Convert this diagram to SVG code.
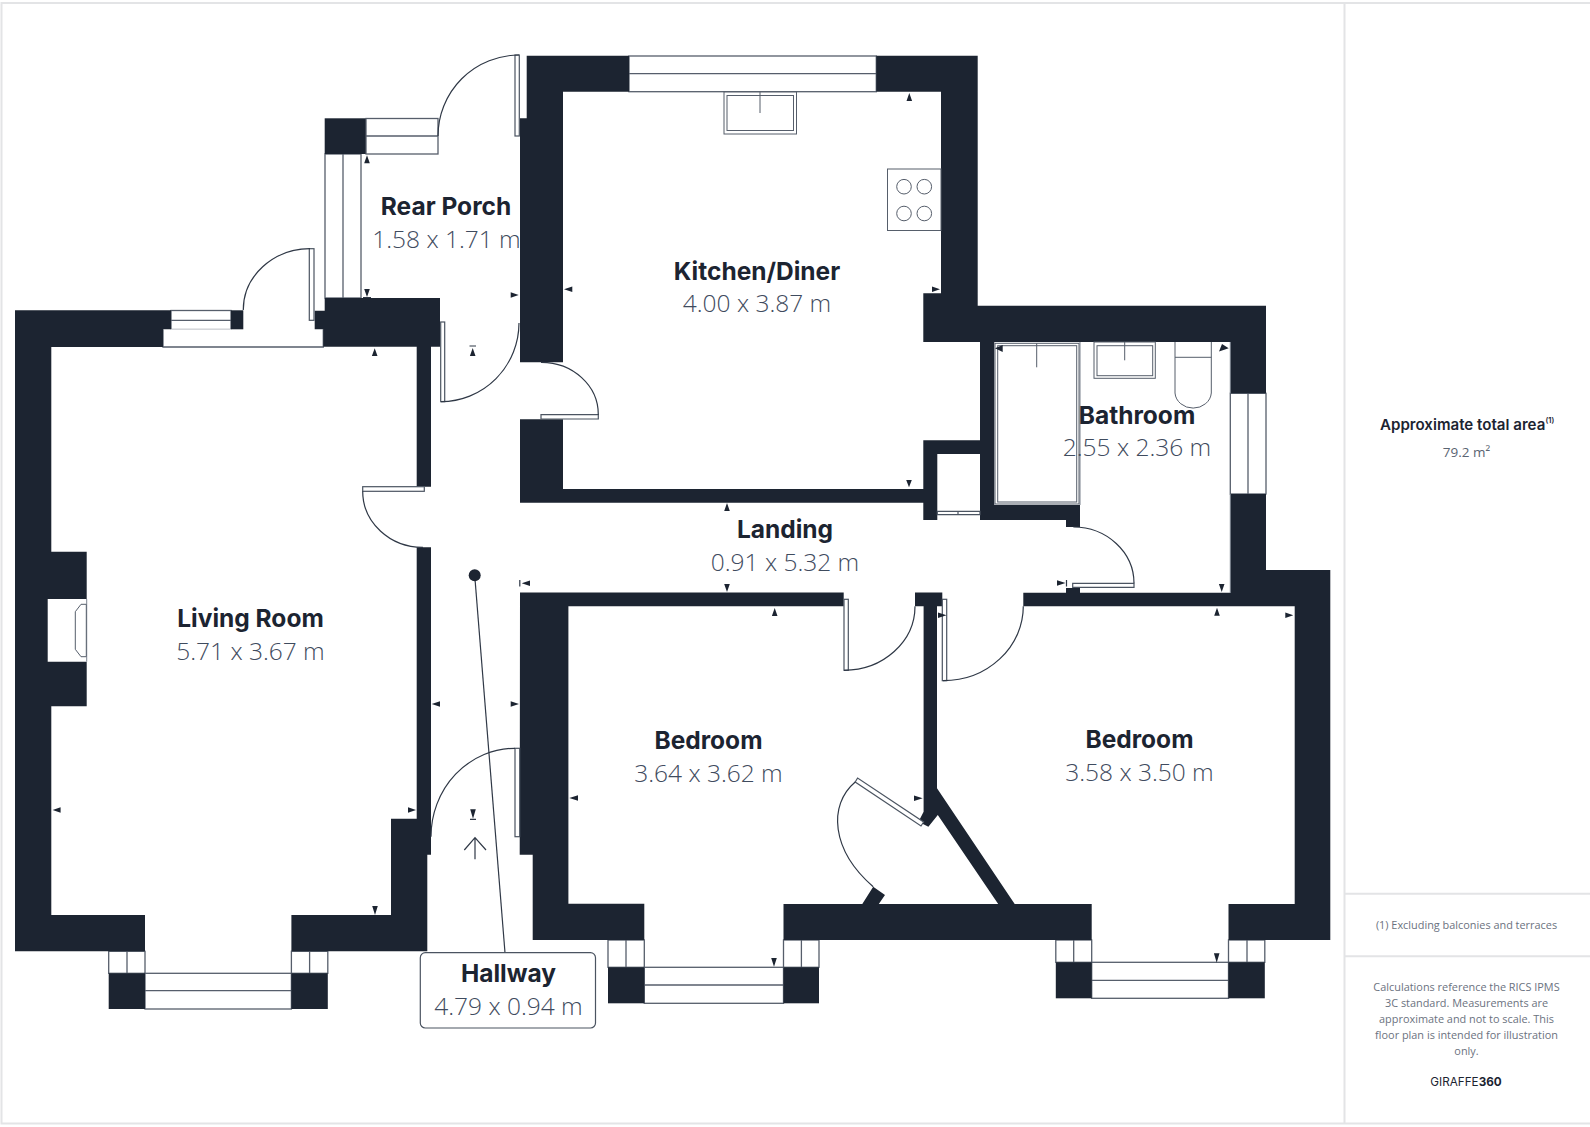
<svg xmlns="http://www.w3.org/2000/svg" width="1590" height="1127" viewBox="0 0 1590 1127">
<defs>
<style>
.w{fill:#1c2431;stroke:none}
.win{fill:#fff;stroke:#565e6b;stroke-width:1.3}
.ln{fill:none;stroke:#2f3846;stroke-width:1.2}
.lf{fill:#fff;stroke:#4b5461;stroke-width:1.2}
.fx{fill:#fff;stroke:#565e6b;stroke-width:1}
.fl{fill:none;stroke:#7a828e;stroke-width:1}
.m{fill:#1c2431;stroke:none}
.t{font-family:"Inter","Liberation Sans",sans-serif;font-weight:700;font-size:24.5px;fill:#1c2431;text-anchor:middle}
.d{font-family:"Open Sans","Liberation Sans",sans-serif;font-weight:300;font-size:24.5px;fill:#3f4b5e;text-anchor:middle}
.p{font-family:"Open Sans","Liberation Sans",sans-serif;font-size:10.9px;fill:#6b7280;text-anchor:middle}
.f{fill:none;stroke:#e3e4e6;stroke-width:2}
</style>
</defs>
<rect width="1590" height="1127" fill="#fff"/>
<g id="frame">
<path class="f" d="M1590 3H1.500V1123.500H1590M1344.500 3V1123.500M1344.500 893.700H1590M1344.500 956.300H1590"/>
</g>
<g id="windows">
<rect class="win" x="366" y="118.500" width="72" height="35.500"/><path class="win" d="M366 136H438"/>
<rect class="win" x="325" y="154" width="36" height="144"/><path class="win" d="M343 154V298"/>
<rect class="win" x="629" y="56" width="247.300" height="35.700"/><path class="win" d="M629 73.600H876.300"/>
<rect class="win" x="1230.300" y="393.300" width="35.700" height="100.700"/><path class="win" d="M1248 393.300V494"/>
<rect class="win" x="171" y="310.500" width="60" height="19"/><path class="win" d="M171 320.300H231"/>
<path class="win" d="M163 329.300V347H323.300V329.300"/>
<rect class="win" x="108.700" y="951.300" width="36.300" height="22"/><path class="win" d="M127 951.300V973.300"/>
<rect class="win" x="291.400" y="951.300" width="36.400" height="22"/><path class="win" d="M309.600 951.300V973.300"/>
<rect class="win" x="145" y="973.300" width="146.400" height="35.700"/><path class="win" d="M145 990.700H291.400"/>
<rect class="win" x="608" y="940" width="36.300" height="27.300"/><path class="win" d="M626 940V967.300"/>
<rect class="win" x="783.500" y="940" width="35.500" height="27.300"/><path class="win" d="M801.400 940V967.300"/>
<rect class="win" x="644.300" y="967.300" width="139.200" height="36"/><path class="win" d="M644.300 985H783.500"/>
<rect class="win" x="1055.800" y="940" width="35.900" height="22.300"/><path class="win" d="M1073.700 940V962.300"/>
<rect class="win" x="1228.500" y="940" width="36.300" height="22.300"/><path class="win" d="M1247 940V962.300"/>
<rect class="win" x="1091.700" y="962.300" width="136.800" height="36"/><path class="win" d="M1091.700 980.300H1228.500"/>
</g>
<g id="walls">
<polygon class="w" points="526.700,55.700 629,55.700 629,91.700 876.300,91.700 876.300,55.700 977.700,55.700 977.700,305.700 1266,305.700 1266,393.300 1230.300,393.300 1230.300,342 994.300,342 994.300,505 1080,505 1080,527 1066,527 1066,520 980,520 980,454 937.300,454 937.300,520 923.300,520 923.300,502.700 520,502.700 520,419.300 563,419.300 563,489 923.300,489 923.300,440.300 980,440.300 980,342 923.300,342 923.300,293.300 941,293.300 941,91.700 563,91.700 563,362.300 520,362.300 520,118.300 526.700,118.300"/>
<polygon class="w" points="1230.300,494 1266,494 1266,570 1330.300,570 1330.300,940 1228.500,940 1228.500,904 1294.700,904 1294.700,606.300 1023.300,606.300 1023.300,592.700 1230.300,592.700"/>
<polygon class="w" points="915,592.500 942.300,592.500 942.300,606.300 937,606.300 937,788.300 1014.700,904 1091.700,904 1091.700,940 783.500,940 783.500,904 862.300,904 873.200,886.700 885,895 878.800,904 998.200,904 937.800,815 928.400,826.700 918.500,821.700 923.600,811.700 923.600,606.300 915,606.300"/>
<polygon class="w" points="520,592.500 843.700,592.500 843.700,606.300 568.400,606.300 568.400,903.700 644.300,903.700 644.300,940 532.700,940 532.700,854.700 519.700,854.700"/>
<polygon class="w" points="15,310.300 171,310.300 171,329.300 163,329.300 163,347 51.300,347 51.300,551.700 86.700,551.700 86.700,599 47.700,599 47.700,661.700 86.700,661.700 86.700,706.300 51.300,706.300 51.300,915 145,915 145,951.300 15,951.300"/>
<polygon class="w" points="291.400,915 391,915 391,818.700 416.700,818.700 416.700,547.300 431,547.300 431,854.700 427.300,854.700 427.300,951.300 291.400,951.300"/>
<polygon class="w" points="324.700,298 440,298 440,346.700 431,346.700 431,486.700 416.700,486.700 416.700,346.700 323.300,346.700 323.300,329.300 314.700,329.300 314.700,310.700 324.700,310.700"/>
<rect class="w" x="324.700" y="118.300" width="41" height="35.700"/>
<rect class="w" x="231" y="310.300" width="12.300" height="19"/>
<rect class="w" x="108.700" y="973.300" width="36.300" height="35.700"/>
<rect class="w" x="291.400" y="973.300" width="36.400" height="35.700"/>
<rect class="w" x="608" y="967.300" width="36.300" height="36"/>
<rect class="w" x="783.500" y="967.300" width="35.500" height="36"/>
<rect class="w" x="1055.800" y="962.300" width="35.900" height="36"/>
<rect class="w" x="1228.500" y="962.300" width="36.300" height="36"/>
<rect class="w" x="1066" y="588" width="14" height="5"/>
</g>
<g id="doors">
<rect class="lf" x="515" y="55" width="4.300" height="81"/><path class="ln" d="M519 55A81 81 0 0 0 438 136"/>
<rect class="lf" x="309.300" y="248.700" width="4.700" height="71.600"/><path class="ln" d="M243.300 310A67 61 0 0 1 310 248.700"/>
<rect class="lf" x="440.700" y="322" width="4" height="79.700"/><path class="ln" d="M441 401.700A78 79 0 0 0 519 323"/>
<path class="lf" d="M541 419V414.700H598.300V419Z"/><path class="ln" d="M541 362.300A57 52 0 0 1 598.300 414.700"/>
<rect class="lf" x="362.700" y="486.700" width="61.600" height="4.600"/><path class="ln" d="M362.700 491.300A60 56 0 0 0 423 547.300"/>
<rect class="lf" x="515" y="748.300" width="4.700" height="88.400"/><path class="ln" d="M431 836.700A84 88.400 0 0 1 515 748.300"/>
<rect class="lf" x="844" y="599.300" width="4.300" height="71"/><path class="ln" d="M844 670.300A71 64 0 0 0 915 606.300"/>
<rect class="lf" x="942.300" y="599.300" width="4.400" height="81.400"/><path class="ln" d="M943 680.700A80.300 74.400 0 0 0 1023.300 606.300"/>
<path class="lf" d="M1072.700 587.300V583.300H1134V587.300Z"/><path class="ln" d="M1073.300 527A60.700 56.300 0 0 1 1134 583.300"/>
<polygon class="lf" points="855.200,782 857.600,778 923.600,822 921,826"/><path class="ln" d="M855.200 782C828 805 831 850 873.200 886.700"/>
<path class="lf" d="M937.300 511.300H980V514.700H937.300ZM958 511.300V514.700"/>
</g>
<g id="fixtures">
<path class="fl" d="M86.700 599V661.700"/>
<path class="fx" d="M86.300 604.300H81L75.300 611.700V649.300L81 656.700H86.300Z"/>
<rect class="fx" x="724" y="92" width="72.500" height="42"/><rect class="fx" x="727" y="95.500" width="66.500" height="35"/><path class="fx" d="M760 92V113"/>
<rect class="fx" x="887.500" y="169" width="53.500" height="61.500"/>
<circle class="fx" cx="904" cy="186.700" r="7.300"/><circle class="fx" cx="924.300" cy="186.700" r="7.300"/><circle class="fx" cx="904" cy="213.500" r="7.300"/><circle class="fx" cx="924.300" cy="213.500" r="7.300"/>
<path class="fl" d="M1080 342V505M1230.300 342V393.300M1230.300 494V593"/>
<rect class="fx" x="995" y="343.300" width="84" height="160.700"/><rect class="fx" x="997.700" y="345.700" width="79" height="156.300"/><path class="fx" d="M1036.700 343.300V367.300"/>
<rect class="fx" x="1094" y="342" width="61.300" height="36.300"/><rect class="fx" x="1097" y="345.700" width="55.700" height="30"/><path class="fx" d="M1124.700 342V360.300"/>
<path class="fx" d="M1175 342V393A18.200 16.300 0 0 0 1211.300 393V342M1175 357.300H1211.300"/>
</g>
<g id="markers">
<path class="m" d="M909.300 93L906.500 101H912.100ZM940 289.300L932 286.500V292.100ZM564 289.300L572.300 286.500V292.100ZM518.700 295L510.700 292.200V297.800ZM367 155.300L364.200 163.300H369.800ZM367 297L364.200 289H369.800ZM374.700 348.300L371.900 356H377.500ZM472.700 348L469.900 356H475.500ZM727 503L724.200 511H729.800ZM727 592L724.200 584H729.800ZM774.700 608L771.900 616H777.500ZM909 487.300L906.200 480H911.800ZM521.700 583.300L530 580.500V586.100ZM1221.700 592L1218.900 584H1224.500ZM1217 607.700L1214.200 615.700H1219.800ZM1293.300 615.300L1285.300 612.500V618.100ZM1228.700 348.300L1219 351.500L1222 344ZM995 348.300L1002.700 345V352ZM774 966.700L771.200 958H776.800ZM1216.700 962.700L1213.900 953.300H1219.500ZM922.700 798.300L914 795.500V801.100ZM569.300 798L578 795.200V800.800ZM52.600 810L60.600 807.200V812.800ZM416 810L408 807.200V812.800ZM375 915L372.200 906H377.800ZM431.700 704L440 701.200V706.800ZM519 704L510.700 701.200V706.800ZM473 818.700L470.200 809.300H475.800ZM1065.500 583L1057 580.200V585.800ZM946.500 615.300L938 612.500V618.100Z"/>
<path class="ln" d="M469.500 346H476M519.800 580V586.500M470 819.300H476M1066.500 580V586.500M363 297.500H371"/>
</g>
<g id="hallway-label">
<path class="ln" d="M474.700 575.300L505 952.700"/>
<circle class="m" cx="474.700" cy="575.300" r="6"/>
<rect x="420.300" y="952.700" width="175.200" height="75.300" rx="5" fill="#fff" stroke="#4b5461" stroke-width="1.200"/>
</g>
<g id="north-arrow">
<path class="ln" d="M475 859.300V837.700M464.300 850L475 837.700L486 850"/>
</g>
<g id="rear-porch"><text class="t" x="446" y="215">Rear Porch</text><text class="d" x="446.500" y="248">1.58 x 1.71 m</text></g>
<g id="kitchen"><text class="t" x="757" y="280">Kitchen/Diner</text><text class="d" x="757" y="312">4.00 x 3.87 m</text></g>
<g id="bathroom"><text class="t" x="1137" y="424">Bathroom</text><text class="d" x="1137" y="455.700">2.55 x 2.36 m</text></g>
<g id="living-room"><text class="t" x="250.500" y="627">Living Room</text><text class="d" x="250.500" y="659.700">5.71 x 3.67 m</text></g>
<g id="landing"><text class="t" x="785" y="538">Landing</text><text class="d" x="785" y="571">0.91 x 5.32 m</text></g>
<g id="bedroom-1"><text class="t" x="708.500" y="748.700">Bedroom</text><text class="d" x="708.500" y="782">3.64 x 3.62 m</text></g>
<g id="bedroom-2"><text class="t" x="1139.500" y="747.500">Bedroom</text><text class="d" x="1139.500" y="781">3.58 x 3.50 m</text></g>
<g id="hallway"><text class="t" x="508.500" y="981.500">Hallway</text><text class="d" x="508.500" y="1015">4.79 x 0.94 m</text></g>
<g id="panel">
<text x="1380" y="430" font-family="Inter,'Liberation Sans',sans-serif" font-weight="600" font-size="15.100" fill="#1c2431">Approximate total area</text>
<text x="1545.500" y="423" font-family="Inter,'Liberation Sans',sans-serif" font-weight="600" font-size="7.500" fill="#1c2431">(1)</text>
<text x="1466.500" y="456.500" font-family="'Open Sans','Liberation Sans',sans-serif" font-size="13.500" fill="#5a6472" text-anchor="middle">79.2 m²</text>
<text class="p" x="1466.500" y="928.500">(1) Excluding balconies and terraces</text>
<text class="p" x="1466.500" y="991">Calculations reference the RICS IPMS</text>
<text class="p" x="1466.500" y="1007">3C standard. Measurements are</text>
<text class="p" x="1466.500" y="1023">approximate and not to scale. This</text>
<text class="p" x="1466.500" y="1039">floor plan is intended for illustration</text>
<text class="p" x="1466.500" y="1055">only.</text>
<text x="1466" y="1086" font-family="Inter,'Liberation Sans',sans-serif" font-size="11.700" fill="#1c2431" text-anchor="middle">GIRAFFE<tspan font-weight="700">360</tspan></text>
</g>
</svg>
